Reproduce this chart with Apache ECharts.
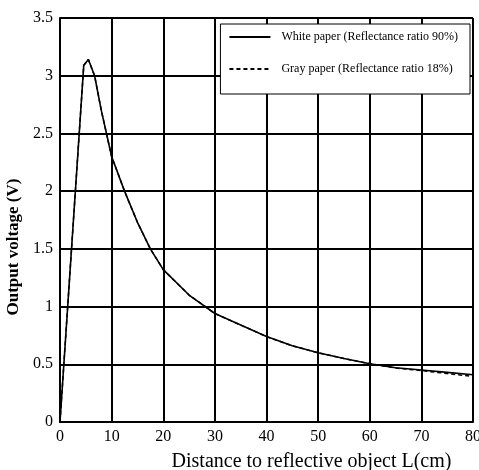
<!DOCTYPE html>
<html>
<head>
<meta charset="utf-8">
<script src="https://cdn.jsdelivr.net/npm/echarts@6/dist/echarts.min.js"></script>
<style>
html,body{margin:0;padding:0;background:#fff;}
#chart{width:479px;height:470px;}
</style>
</head>
<body>
<div id="chart"></div>
<script>
// distance (cm) and output voltage (V)
var whiteX = [0, 4.6, 5.5, 6.7, 8, 10, 12.5, 15, 17.5, 20, 25, 30, 35, 40, 45, 50, 55, 60, 65, 70, 75, 80];
var whiteY = [0, 3.09, 3.14, 3.0, 2.7, 2.3, 2.0, 1.73, 1.5, 1.32, 1.1, 0.94, 0.84, 0.74, 0.66, 0.6, 0.55, 0.505, 0.47, 0.45, 0.43, 0.41];
var grayX = [0, 4.6, 5.5, 6.7, 8, 10, 12.5, 15, 17.5, 20, 25, 30, 35, 40, 45, 50, 55, 60, 65, 70, 75, 80];
var grayY = [0, 3.09, 3.14, 3.0, 2.7, 2.3, 2.0, 1.73, 1.5, 1.32, 1.1, 0.94, 0.84, 0.74, 0.66, 0.6, 0.55, 0.505, 0.468, 0.445, 0.42, 0.395];
var seriesNames = ['White paper (Reflectance ratio 90%)', 'Gray paper (Reflectance ratio 18%)'];

function pairs(xs, ys){
	return xs.map(function(x, i){ return [x, ys[i]]; });
}

var FONT = 'Liberation Serif';
var myChart = echarts.init(document.getElementById('chart'));
myChart.setOption({
	animation: false,
	backgroundColor: '#fff',
	grid: {left: 60, right: 6, top: 18, bottom: 48, containLabel: false, outerBoundsMode: 'none'},
	legend: {
		right: 9,
		top: 24,
		orient: 'vertical',
		backgroundColor: '#fff',
		borderColor: '#000',
		borderWidth: 1,
		borderRadius: 0,
		padding: [7, 12, 19, 8],
		itemWidth: 41,
		itemHeight: 14,
		itemGap: 20,
		itemStyle: {opacity: 0},
		textStyle: {color: '#000', fontFamily: FONT, fontSize: 12, padding: [0, 0, 0, 6]},
		data: seriesNames
	},
	xAxis: {
		type: 'value',
		min: 0, max: 80, interval: 10,
		name: 'Distance to reflective object L(cm)',
		nameLocation: 'middle',
		nameGap: 30,
		nameTextStyle: {color: '#000', fontFamily: FONT, fontSize: 20, padding: [0, 0, 0, 90]},
		axisLine: {show: true, lineStyle: {color: '#000', width: 2}},
		axisTick: {show: false},
		axisLabel: {color: '#000', fontFamily: FONT, fontSize: 16, margin: 7},
		splitLine: {show: true, lineStyle: {color: '#000', width: 2}}
	},
	yAxis: {
		type: 'value',
		min: 0, max: 3.5, interval: 0.5,
		name: 'Output voltage (V)',
		nameLocation: 'middle',
		nameGap: 36,
		nameTextStyle: {color: '#000', fontFamily: FONT, fontSize: 17, fontWeight: 'bold', padding: [0, 54, 0, 0]},
		axisLine: {show: true, lineStyle: {color: '#000', width: 2}},
		axisTick: {show: false},
		axisLabel: {color: '#000', fontFamily: FONT, fontSize: 16, margin: 7},
		splitLine: {show: true, lineStyle: {color: '#000', width: 2}}
	},
	series: [
		{
			name: seriesNames[1],
			type: 'line',
			symbol: 'none',
			z: 2,
			lineStyle: {color: '#000', width: 1.5, type: [4, 3]},
			itemStyle: {color: '#000'},
			data: pairs(grayX, grayY)
		},
		{
			name: seriesNames[0],
			type: 'line',
			symbol: 'none',
			z: 3,
			lineStyle: {color: '#000', width: 1.6},
			itemStyle: {color: '#000'},
			data: pairs(whiteX, whiteY)
		}
	]
});
</script>
</body>
</html>
